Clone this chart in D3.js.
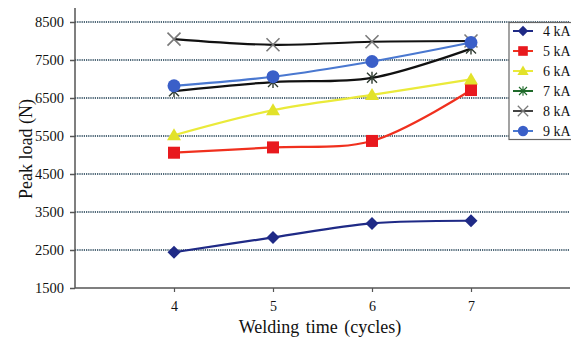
<!DOCTYPE html>
<html>
<head>
<meta charset="utf-8">
<script src="https://cdn.jsdelivr.net/npm/d3@7"></script>
<style>
  html, body { margin: 0; padding: 0; background: #fff; }
  svg { display: block; font-family: "Times New Roman", "Liberation Serif", Times, serif; }
</style>
</head>
<body>
<svg id="chart" width="571" height="343"></svg>
<script>
// Welding time (cycles) on the x axis
const cycles = [4, 5, 6, 7];
// Peak load (N) for each welding current
const series4kA = [2440, 2830, 3200, 3270];
const series5kA = [5060, 5200, 5370, 6710];
const series6kA = [5520, 6180, 6580, 6990];
const series7kA = [6680, 6920, 7030, 7800];
const series8kA = [8050, 7900, 7980, 8000];
const series9kA = [6820, 7060, 7460, 7960];
const seriesNames = ["4 kA", "5 kA", "6 kA", "7 kA", "8 kA", "9 kA"];
const yTicks = [1500, 2500, 3500, 4500, 5500, 6500, 7500, 8500];

const allSeries = [series4kA, series5kA, series6kA, series7kA, series8kA, series9kA];
const styles = [
  { line: "#1f2a86", fill: "#1f2a86", marker: "diamond" },
  { line: "#f0301e", fill: "#e8191e", marker: "square" },
  { line: "#eaea3a", fill: "#e2e22a", marker: "triangle" },
  { line: "#111111", fill: "#2e3a30", marker: "asterisk", legendFill: "#1f6a2a", legendLine: "#1f6a2a" },
  { line: "#111111", fill: "#7a7a7a", marker: "cross", legendLine: "#444444" },
  { line: "#4a78d0", fill: "#3a5fc8", marker: "circle" }
];

const fontFamily = "'Times New Roman', 'Liberation Serif', Times, serif";
const svg = d3.select("#chart");
const plotLeft = 75, plotRight = 570, plotTop = 22, plotBottom = 288;

const x = d3.scaleLinear().domain([3, 8]).range([plotLeft, plotRight]);
const y = d3.scaleLinear().domain([1500, 8500]).range([plotBottom, plotTop]);

// dotted horizontal gridlines
svg.append("g").selectAll("line").data(yTicks.slice(1)).join("line")
  .attr("x1", plotLeft).attr("x2", plotRight)
  .attr("y1", d => y(d)).attr("y2", d => y(d))
  .attr("stroke", "#4f6878").attr("stroke-width", 2)
  .attr("stroke-dasharray", "1.2,1");

// y axis
const yAxis = svg.append("g").attr("transform", `translate(${plotLeft},0)`)
  .call(d3.axisLeft(y).tickValues(yTicks).tickSize(5).tickPadding(6).tickFormat(d3.format("d")));
yAxis.select(".domain").remove();
yAxis.append("line").attr("x1", 0).attr("x2", 0).attr("y1", 8).attr("y2", plotBottom)
  .attr("stroke", "#555").attr("stroke-width", 1.5);
yAxis.selectAll(".tick line").attr("stroke", "#555").attr("stroke-width", 1.5);
yAxis.selectAll(".tick text").attr("fill", "#111")
  .style("font-size", "14.5px").style("font-family", fontFamily);

// x axis
const xAxis = svg.append("g").attr("transform", `translate(0,${plotBottom})`)
  .call(d3.axisBottom(x).tickValues(cycles).tickSize(4).tickPadding(9).tickFormat(d3.format("d")));
xAxis.select(".domain").attr("stroke", "#555").attr("stroke-width", 1.5)
  .attr("d", `M${plotLeft},0H${plotRight}`);
xAxis.selectAll(".tick line").attr("stroke", "#555").attr("stroke-width", 1.2);
xAxis.selectAll(".tick text").attr("fill", "#111")
  .style("font-size", "14px").style("font-family", fontFamily);

// axis titles
svg.append("text").attr("x", 320).attr("y", 333).attr("text-anchor", "middle")
  .attr("fill", "#111").style("font-size", "18px").style("word-spacing", "2px")
  .style("font-family", fontFamily).text("Welding time (cycles)");
svg.append("text").attr("transform", "translate(32,149) rotate(-90)").attr("text-anchor", "middle")
  .attr("fill", "#111").style("font-size", "18px").style("font-family", fontFamily)
  .text("Peak load (N)");

function drawMarker(g, type, cx, cy, fill) {
  const s = g.append("g").attr("transform", `translate(${cx},${cy})`);
  if (type === "diamond") {
    s.append("path").attr("d", "M0,-6.5L6.5,0L0,6.5L-6.5,0Z").attr("fill", fill);
  } else if (type === "square") {
    s.append("rect").attr("x", -6).attr("y", -6).attr("width", 12).attr("height", 12).attr("fill", fill);
  } else if (type === "triangle") {
    s.append("path").attr("d", "M0,-7L7,5L-7,5Z").attr("fill", fill);
  } else if (type === "circle") {
    s.append("circle").attr("r", 6.5).attr("fill", fill);
  } else if (type === "cross") {
    s.append("path").attr("d", "M-6.5,-6.5L6.5,6.5M-6.5,6.5L6.5,-6.5").attr("stroke", fill).attr("stroke-width", 1.6);
  } else if (type === "asterisk") {
    s.append("path").attr("d", "M-5,-5L5,5M-5,5L5,-5M0,-6L0,6").attr("stroke", fill).attr("stroke-width", 1.4);
  }
}

const line = d3.line().x((d, i) => x(cycles[i])).y(d => y(d)).curve(d3.curveCatmullRom.alpha(0.5));

const plot = svg.append("g");
allSeries.forEach((vals, k) => {
  plot.append("path").attr("d", line(vals)).attr("fill", "none")
    .attr("stroke", styles[k].line).attr("stroke-width", 2.2);
});
allSeries.forEach((vals, k) => {
  vals.forEach((v, i) => drawMarker(plot, styles[k].marker, x(cycles[i]), y(v), styles[k].fill));
});

// legend
const lg = svg.append("g");
lg.append("rect").attr("x", 509).attr("y", 22.5).attr("width", 70).attr("height", 117)
  .attr("fill", "#fff").attr("stroke", "#666").attr("stroke-width", 1.2);
seriesNames.forEach((name, k) => {
  const ly = 31 + k * 20;
  lg.append("line").attr("x1", 513).attr("x2", 533).attr("y1", ly).attr("y2", ly)
    .attr("stroke", styles[k].legendLine || styles[k].line).attr("stroke-width", 2);
  const sc = lg.append("g").attr("transform", `translate(523,${ly}) scale(0.8) translate(-523,${-ly})`);
  drawMarker(sc, styles[k].marker, 523, ly, styles[k].legendFill || styles[k].fill);
  lg.append("text").attr("x", 543).attr("y", ly + 4.5).attr("fill", "#111")
    .style("font-size", "14px").style("font-family", fontFamily).text(name);
});
</script>
</body>
</html>
